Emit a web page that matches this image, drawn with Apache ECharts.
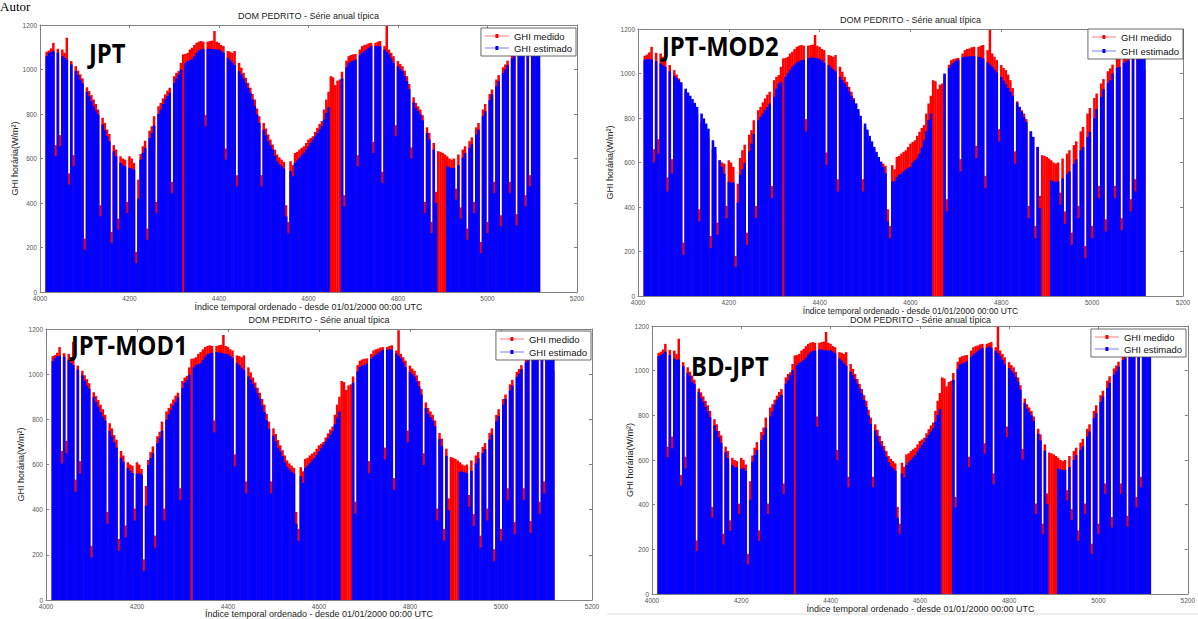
<!DOCTYPE html>
<html><head><meta charset="utf-8">
<script src="https://cdn.jsdelivr.net/npm/echarts@6/dist/echarts.min.js"></script>
<style>html,body{margin:0;padding:0;background:#fff;} #c{width:1198px;height:619px;}</style>
</head><body><div id="c"></div>
<script>
// ---- DATA (sampled every 5 index units, starting at 4015) ----
const X_START = 4015, X_STEP = 5;
const xTickValues = [4000, 4200, 4400, 4600, 4800, 5000, 5200];
const yTickValues = [0, 200, 400, 600, 800, 1000, 1200];
const seriesNames = ['GHI medido', 'GHI estimado'];
const panelTags = ['JPT', 'JPT-MOD2', 'JPT-MOD1', 'BD-JPT'];
const chartTitle = 'DOM PEDRITO - Série anual típica';
const xAxisTitle = 'Índice temporal ordenado - desde 01/01/2000 00:00 UTC';
const yAxisTitle = 'GHI horária(W/m²)';
const sourceNote = 'Autor';

const ghiMedido = [
 1080,1085,1095,1120,660,1093,705,1090,1075,1143,533,1038,615,1015,995,978,960,240,920,903,
 885,865,845,820,390,783,760,730,710,270,660,640,330,610,600,595,405,610,600,580,
 180,505,620,655,680,285,725,745,790,405,835,850,870,888,905,918,495,970,985,993,
 1030,1068,1070,1075,1090,1098,1110,1120,1125,1128,1125,795,1125,1128,1130,1173,1125,1120,1110,1105,
 645,1083,1080,1075,1083,525,1030,1008,985,963,940,918,890,865,825,790,525,760,735,708,
 685,663,640,618,605,595,585,390,315,588,570,625,630,640,648,655,670,685,692,700,
 720,738,755,768,820,865,900,970,965,930,950,955,990,435,1040,1060,1065,1068,1070,615,
 1090,1105,1110,1113,1118,1120,675,1120,1125,1128,540,1105,1195,1090,1075,1060,750,1038,1025,1015,
 995,970,935,650,875,850,835,820,795,405,740,715,315,670,450,633,630,625,618,610,
 600,595,600,465,618,380,640,655,285,678,695,405,740,760,225,820,845,315,890,910,
 495,955,975,345,1010,1023,1040,495,1065,1075,350,1090,1095,1095,435,1100,525,1100,1095,1090,
 1015
];
const ghiEstJPT = [
 1060,1075,1078,1083,610,1075,655,1060,1052,1045,483,1023,565,993,975,955,938,190,900,880,
 858,835,815,798,340,753,728,700,678,220,632,610,280,580,570,565,355,558,555,550,
 130,420,595,625,648,235,692,715,748,355,800,820,845,865,880,895,445,940,960,978,
 1000,0,1028,1038,1042,1045,1060,1075,1085,1090,1092,745,1093,1093,1092,1090,1090,1090,1083,1075,
 595,1053,1042,1030,1020,475,993,978,960,940,918,895,865,835,798,760,475,730,705,678,
 660,640,612,588,575,565,555,340,265,543,520,580,592,603,615,625,640,655,670,685,
 700,715,730,745,775,805,830,null,null,null,null,null,960,385,1010,1030,1035,1038,1045,565,
 1065,1075,1083,1090,1098,1105,625,1105,1105,1105,490,1090,1080,1068,1050,1030,700,1015,1003,993,
 970,948,912,600,852,828,813,798,772,355,715,685,265,640,400,null,null,null,null,565,
 560,558,558,415,570,330,603,625,235,648,665,355,708,730,175,790,812,265,862,888,
 445,925,948,295,985,1000,1020,445,1050,1060,300,1075,1080,1085,385,1090,475,1090,1085,1080,
 1075
];
const ghiEstMOD2 = [
 1062,1065,1066,1063,600,1055,640,1045,1038,1030,470,1010,550,990,980,970,960,185,932,915,
 900,885,868,850,335,820,798,775,752,215,700,670,275,610,580,550,350,513,510,510,
 130,420,545,570,598,230,650,685,728,350,790,805,820,835,850,865,440,895,932,955,
 962,0,985,1000,1015,1030,1040,1050,1055,1060,1062,740,1068,1072,1072,1070,1068,1065,1058,1048,
 590,1038,1028,1018,1010,470,985,970,955,940,920,900,882,865,840,810,470,775,748,720,
 695,670,648,625,602,580,552,335,260,515,515,535,545,550,560,568,575,580,600,610,
 620,640,668,700,740,790,820,null,null,null,null,null,1000,380,1025,1040,1048,1055,1062,560,
 1072,1075,1076,1078,1078,1078,620,1075,1072,1068,485,1050,1040,1030,1018,1005,695,985,968,952,
 935,918,900,595,868,850,828,805,782,350,740,715,260,670,395,null,null,null,null,520,
 515,513,515,410,528,325,548,560,230,595,615,350,655,670,170,715,738,260,800,840,
 440,895,930,290,958,970,1000,440,1025,1030,295,1048,1055,1060,380,1065,470,1068,1068,1068,
 1068
];
const ghiEstMOD1 = [
 1058,1072,1080,1080,605,1078,650,1062,1050,1040,480,1020,560,995,972,950,935,188,898,876,
 855,832,812,795,338,750,725,698,675,218,630,612,278,585,572,562,352,560,562,555,
 128,418,598,628,650,232,695,718,750,352,798,822,842,862,878,898,442,938,962,975,
 998,0,1030,1040,1045,1048,1062,1078,1088,1092,1095,742,1098,1095,1095,1092,1090,1088,1080,1072,
 592,1050,1040,1028,1018,472,990,975,958,938,915,892,862,832,795,758,472,728,702,675,
 658,638,610,590,578,568,560,338,262,548,518,585,595,605,618,628,642,658,672,688,
 702,718,732,748,778,808,835,null,null,null,null,null,962,382,1012,1032,1038,1040,1048,562,
 1068,1078,1085,1093,1100,1108,622,1108,1110,1108,488,1092,1082,1070,1052,1032,698,1012,1000,990,
 968,945,910,598,850,825,810,795,770,352,712,682,262,638,398,null,null,null,null,570,
 568,565,562,412,572,328,605,628,232,650,668,352,710,732,172,792,815,262,865,890,
 442,928,950,292,988,1002,1022,442,1052,1062,298,1078,1082,1088,382,1092,472,1092,1088,1082,
 1078
];
const ghiEstBDJPT = [
 1065,1070,1075,1085,612,1070,652,1055,1048,1050,485,1020,562,990,978,950,940,192,905,878,
 860,838,818,792,342,755,730,702,676,222,635,608,282,578,568,568,358,560,565,552,
 132,422,592,622,645,238,690,712,745,358,795,818,848,868,882,892,448,942,958,980,
 1002,0,1025,1035,1040,1048,1058,1072,1082,1088,1090,748,1095,1095,1090,1092,1088,1092,1085,1078,
 598,1055,1045,1032,1022,478,995,980,962,942,920,898,868,838,800,762,478,732,708,680,
 662,642,615,590,572,562,552,342,268,540,522,578,590,600,612,622,638,652,668,682,
 698,712,728,742,772,802,828,null,null,null,null,null,958,388,1008,1028,1032,1036,1042,568,
 1062,1072,1080,1088,1095,1102,628,1102,1108,1102,492,1088,1078,1065,1048,1028,702,1012,1000,990,
 972,950,915,602,855,830,815,800,775,358,718,688,268,642,402,null,null,null,null,562,
 558,555,555,418,568,332,600,622,238,645,662,358,705,728,178,788,810,268,860,885,
 448,922,945,298,982,998,1018,448,1048,1058,302,1072,1078,1082,388,1088,478,1088,1082,1078,
 1072
];

// ---- LAYOUT ----
const panels = [
  {est: ghiEstJPT,   grid:{left:40, top:25, width:537, height:267}, title:[308.5,16], xname:[308.5,307], yname:[15,158.5], tag:[89,52.5], legend:{right:622, top:28, gap:2}},
  {est: ghiEstMOD2,  grid:{left:638,top:29, width:545, height:267}, title:[910.5,20], xname:[910.5,310.8], yname:[610,162.5], tag:[662,45], legend:{right:15, top:29, gap:4}},
  {est: ghiEstMOD1,  grid:{left:46, top:329,width:546, height:271}, title:[319,320], xname:[319,613.5], yname:[21,464.5], tag:[71,344], legend:{right:607, top:331, gap:3}},
  {est: ghiEstBDJPT, grid:{left:652,top:326,width:537, height:268}, title:[920.5,319.8], xname:[920.5,609], yname:[630,460], tag:[691,365], legend:{right:12, top:329, gap:2}}
];

const AX = '#808080', LBL = '#555';
const LEGEND_ICON = 'path://M0,2.2 L24,2.2 L24,2.8 L0,2.8 Z M10.5,0.5 L13.5,0.5 L13.5,4.5 L10.5,4.5 Z';
const toPairs = arr => arr.map((v, i) => [X_START + i * X_STEP, v]).filter(p => p[1] !== null);

const grids = [], xAxes = [], yAxes = [], series = [], legends = [], graphics = [];
panels.forEach((p, k) => {
  grids.push(Object.assign({containLabel:false}, p.grid));
  const common = {gridIndex:k, type:'value', splitLine:{show:false},
    axisLine:{show:true, onZero:false, lineStyle:{color:AX, width:1}},
    axisTick:{show:true, inside:true, length:3, lineStyle:{color:AX}}};
  xAxes.push(Object.assign({}, common, {position:'bottom', min:xTickValues[0], max:xTickValues[xTickValues.length-1], interval:200,
    axisLabel:{show:true, margin:3, fontSize:6.5, color:LBL, fontFamily:'Liberation Sans', formatter:v=>String(v)}}));
  xAxes.push(Object.assign({}, common, {position:'top', min:xTickValues[0], max:xTickValues[xTickValues.length-1], interval:200, axisLabel:{show:false}}));
  yAxes.push(Object.assign({}, common, {position:'left', min:yTickValues[0], max:yTickValues[yTickValues.length-1], interval:200,
    axisLabel:{show:true, margin:3, fontSize:6.5, color:LBL, fontFamily:'Liberation Sans', formatter:v=>String(v)}}));
  yAxes.push(Object.assign({}, common, {position:'right', min:yTickValues[0], max:yTickValues[yTickValues.length-1], interval:200, axisLabel:{show:false}}));

  series.push({type:'bar', name:seriesNames[0], xAxisIndex:2*k, yAxisIndex:2*k, data:toPairs(ghiMedido),
    barWidth:2.5, barGap:'-100%', itemStyle:{color:'#ff0000'}, silent:true, animation:false, z:2});
  series.push({type:'bar', name:seriesNames[1], xAxisIndex:2*k, yAxisIndex:2*k, data:toPairs(p.est),
    barWidth:2.6, barGap:'-100%', itemStyle:{color:'#0000ff'}, silent:true, animation:false, z:3});

  legends.push({orient:'vertical', right:p.legend.right, top:p.legend.top, selectedMode:false,
    data:seriesNames.map(n=>({name:n, icon:LEGEND_ICON})), itemWidth:24, itemHeight:5, itemGap:p.legend.gap,
    padding:[3,4,3,4], backgroundColor:'#fff', borderColor:'#444', borderWidth:0.8, z:10,
    textStyle:{fontSize:9.5, fontFamily:'Liberation Sans', color:'#111'}});

  const txt = (x, y, text, opts) => Object.assign({type:'text', x, y, silent:true, z:20,
    style:Object.assign({text, fill:'#222', fontFamily:'Liberation Sans', fontSize:9,
      textAlign:'center', align:'center', textVerticalAlign:'middle', verticalAlign:'middle'}, opts.style || {})}, opts.el || {});
  graphics.push(txt(p.title[0], p.title[1], chartTitle, {}));
  graphics.push(txt(p.xname[0], p.xname[1], xAxisTitle, {style: k === 1 ? {fontSize:8.5} : {}}));
  graphics.push(txt(p.yname[0], p.yname[1], yAxisTitle, {el:{rotation:Math.PI/2}}));
  graphics.push(txt(p.tag[0], p.tag[1], panelTags[k], {style:{fill:'#000', fontFamily:'Open Sans', fontWeight:'bold', fontSize:27,
    textAlign:'left', align:'left'}, el:{scaleX:0.88}}));
});
graphics.push({type:'text', x:0, y:0, silent:true, style:{text:sourceNote, fill:'#000', fontFamily:'Liberation Serif', fontSize:13,
  textAlign:'left', align:'left', textVerticalAlign:'top', verticalAlign:'top'}});
graphics.push({type:'line', silent:true, shape:{x1:607, y1:614, x2:1198, y2:614}, style:{stroke:'#dddddd', lineWidth:1}});

const chart = echarts.init(document.getElementById('c'), null, {renderer:'svg'});
chart.setOption({animation:false, backgroundColor:'#fff', grid:grids, xAxis:xAxes, yAxis:yAxes, series, legend:legends, graphic:{elements:graphics}});
</script></body></html>
